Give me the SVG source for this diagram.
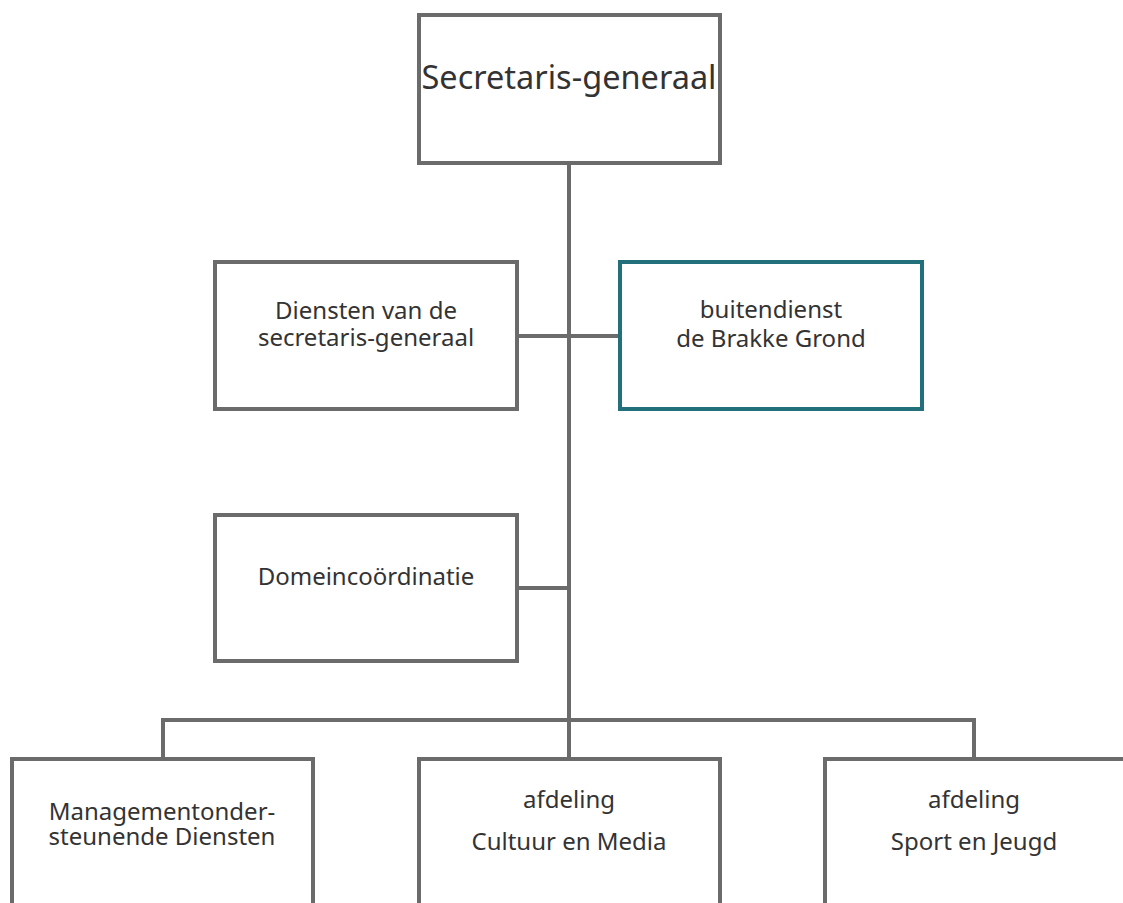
<svg xmlns="http://www.w3.org/2000/svg" width="1123" height="903" viewBox="0 0 1123 903">
<style>
.box{fill:#ffffff;stroke:#6b6b6b;stroke-width:4}
.teal{fill:#ffffff;stroke:#21707b;stroke-width:4}
.conn{stroke:#6b6b6b;stroke-width:4;fill:none}
text{font-family:"Noto Sans","Open Sans",sans-serif;fill:#333333;text-anchor:middle}
.t{font-size:24px}
.big{font-size:32.5px}
</style>
<rect x="0" y="0" width="1123" height="903" fill="#ffffff"/>
<g id="connectors">
<line class="conn" x1="569" y1="163" x2="569" y2="759"/>
<line class="conn" x1="517" y1="336" x2="620" y2="336"/>
<line class="conn" x1="517" y1="588" x2="569" y2="588"/>
<polyline class="conn" points="163,759 163,720 974,720 974,759"/>
</g>
<g id="secretaris-generaal">
<rect class="box" x="419" y="15" width="301" height="148"/>
<text class="big" x="569" y="89">Secretaris-generaal</text>
</g>
<g id="diensten-sg">
<rect class="box" x="215" y="262" width="302" height="147"/>
<text class="t" x="366" y="319">Diensten van de</text>
<text class="t" x="366" y="346">secretaris-generaal</text>
</g>
<g id="buitendienst">
<rect class="teal" x="620" y="262" width="302" height="147"/>
<text class="t" x="771" y="318">buitendienst</text>
<text class="t" x="771" y="347">de Brakke Grond</text>
</g>
<g id="domeincoordinatie">
<rect class="box" x="215" y="515" width="302" height="146"/>
<text class="t" x="366" y="585">Domeincoördinatie</text>
</g>
<g id="managementondersteunende">
<rect class="box" x="12" y="759" width="301" height="200"/>
<text class="t" x="162" y="820">Managementonder-</text>
<text class="t" x="162" y="845">steunende Diensten</text>
</g>
<g id="cultuur-media">
<rect class="box" x="419" y="759" width="301" height="200"/>
<text class="t" x="569" y="808">afdeling</text>
<text class="t" x="569" y="850">Cultuur en Media</text>
</g>
<g id="sport-jeugd">
<rect class="box" x="825" y="759" width="301" height="200"/>
<text class="t" x="974" y="808">afdeling</text>
<text class="t" x="974" y="850">Sport en Jeugd</text>
</g>
</svg>
